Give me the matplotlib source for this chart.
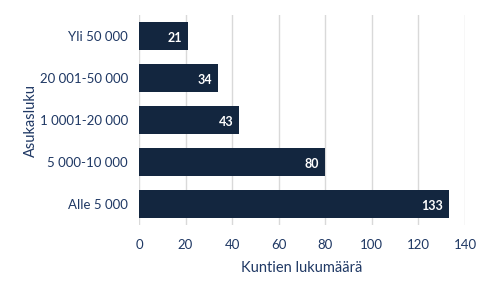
import matplotlib.pyplot as plt

categories = ["Alle 5 000", "5 000-10 000", "1 0001-20 000", "20 001-50 000", "Yli 50 000"]
counts = [133, 80, 43, 34, 21]
xticks = [0, 20, 40, 60, 80, 100, 120, 140]

bar_color = "#13263f"
text_color = "#1f3864"

plt.rcParams["font.family"] = ["Lato", "DejaVu Sans"]

fig = plt.figure(figsize=(4.91, 2.92), dpi=100)
ax = fig.add_axes([0.283, 0.229, 0.664, 0.72])

bars = ax.barh(categories, counts, height=0.67, color=bar_color, zorder=3)
for b, v in zip(bars, counts):
    ax.text(b.get_width() - 2.5, b.get_y() + b.get_height() / 2 - 0.05, str(v),
            ha="right", va="center", color="white", fontsize=9,
            fontweight="bold", zorder=4)

ax.set_xlim(0, 140)
ax.set_ylim(-0.5, 4.5)
ax.set_xticks(xticks)
ax.xaxis.grid(True, color="#d9d9d9", linewidth=1, zorder=0)
ax.set_axisbelow(True)
for s in ["top", "right", "bottom", "left"]:
    ax.spines[s].set_visible(False)
ax.tick_params(axis="both", length=0, labelsize=9.5, colors=text_color, pad=8)
ax.tick_params(axis="x", pad=10)

ax.set_xlabel("Kuntien lukumäärä", fontsize=10.5, color=text_color, labelpad=7)
ax.set_ylabel("Asukasluku", fontsize=10.5, color=text_color, labelpad=1)

fig.savefig("out.png", dpi=100)
